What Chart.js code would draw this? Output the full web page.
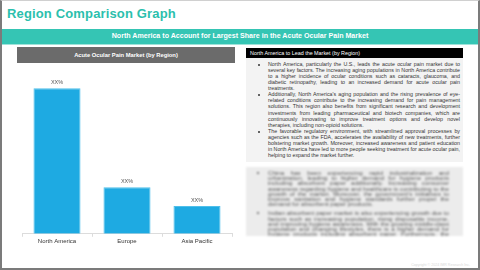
<!DOCTYPE html>
<html>
<head>
<meta charset="utf-8">
<script src="https://cdn.jsdelivr.net/npm/chart.js@4"></script>
<style>
  html,body{margin:0;padding:0;background:#fff;}
  #page{position:relative;width:480px;height:270px;box-sizing:border-box;overflow:hidden;
    border-left:2px solid #7b7b7b;border-right:2px solid #7b7b7b;border-bottom:2px solid #7b7b7b;border-top:1px solid #d0d0d0;
    font-family:"Liberation Sans",Arial,sans-serif;}
  #title{position:absolute;left:5px;top:5px;font-size:13px;font-weight:bold;color:#2bbfad;letter-spacing:0.15px;}
  #band{position:absolute;left:0;top:28px;width:476px;height:15px;background:#35c5b4;border-bottom:1px solid #9fe3da;
    color:#fff;font-size:7.1px;font-weight:bold;text-align:center;line-height:15px;}
  #lhead{position:absolute;left:15px;top:46px;width:218px;height:16px;background:#6b6b6b;color:#fff;
    font-size:5.8px;font-weight:bold;text-align:center;line-height:16px;}
  #chartwrap{position:absolute;left:15px;top:63px;width:218px;height:182px;}
  #rhead{position:absolute;left:244px;top:47px;width:217px;height:10px;background:#000;color:#fff;
    font-size:5.4px;line-height:10px;padding-left:4px;box-sizing:border-box;}
  #rpanel{position:absolute;left:244px;top:57px;width:217px;height:104px;background:#f3f3f3;box-sizing:border-box;
    padding:3px 3px 0 0;}
  ul{margin:0;padding-left:22px;}
  #rpanel li{font-size:5.3px;line-height:6.07px;color:#333;text-align:justify;}
  #blur{position:absolute;left:244px;top:166px;width:217px;height:69px;background:#ececec;box-sizing:border-box;
    padding:3px 14px 0 0;filter:blur(1.3px);overflow:hidden;}
  #blur li{font-size:6.2px;line-height:5.2px;color:#555;text-align:justify;margin-bottom:4px;}
  #copy{position:absolute;right:8px;top:262px;font-size:3.6px;color:#d8d8d8;}
</style>
</head>
<body>
<div id="page">
  <div id="title">Region Comparison Graph</div>
  <div id="band">North America to Account for Largest Share in the Acute Ocular Pain Market</div>
  <div id="lhead">Acute Ocular Pain Market (by Region)</div>
  <div id="chartwrap"><canvas id="c" width="218" height="182"></canvas></div>
  <div id="rhead">North America to Lead the Market (by Region)</div>
  <div id="rpanel">
    <ul>
      <li>North America, particularly the U.S., leads the acute ocular pain market due to several key factors. The increasing aging populations in North America contribute to a higher incidence of ocular conditions such as cataracts, glaucoma, and diabetic retinopathy, leading to an increased demand for acute ocular pain treatments.</li>
      <li>Additionally, North America's aging population and the rising prevalence of eye-related conditions contribute to the increasing demand for pain management solutions. This region also benefits from significant research and development investments from leading pharmaceutical and biotech companies, which are continuously innovating to improve treatment options and develop novel therapies, including non-opioid solutions.</li>
      <li>The favorable regulatory environment, with streamlined approval processes by agencies such as the FDA, accelerates the availability of new treatments, further bolstering market growth. Moreover, increased awareness and patient education in North America have led to more people seeking treatment for acute ocular pain, helping to expand the market further.</li>
    </ul>
  </div>
  <div id="blur">
    <ul>
      <li>China has been experiencing rapid industrialization and urbanization, leading to higher demand for hygiene products including absorbent paper additionally. Increasing consumer awareness regarding hygiene and healthcare is contributing to the growth of the market. Moreover, the government's initiatives to improve sanitation and hygiene standards further propel the demand for absorbent paper products.</li>
      <li>Indian absorbent paper market is also experiencing growth due to factors such as increasing population, rising disposable income, and improving hygiene awareness. With the growing middle-class population and changing lifestyles, there is a higher demand for hygiene products including absorbent paper. Furthermore, the retail development.</li>
    </ul>
  </div>
  <div id="copy">Copyright © 2024 IMR Research Inc.</div>
</div>
<script>
const categories = ["North America", "Europe", "Asia Pacific"];
const shareValues = [55, 17.6, 10.5];
const valueLabels = ["XX%", "XX%", "XX%"];

const labelPlugin = {
  id: 'barLabels',
  afterDatasetsDraw(chart) {
    const ctx = chart.ctx;
    const meta = chart.getDatasetMeta(0);
    ctx.save();
    ctx.font = '5.5px "Liberation Sans", Arial, sans-serif';
    ctx.fillStyle = '#555';
    ctx.textAlign = 'center';
    ctx.textBaseline = 'bottom';
    meta.data.forEach((bar, i) => {
      ctx.fillText(valueLabels[i], bar.x, bar.y - 3);
    });
    ctx.restore();
  }
};

new Chart(document.getElementById('c'), {
  type: 'bar',
  data: {
    labels: categories,
    datasets: [{
      data: shareValues,
      backgroundColor: '#1eaae2',
      borderColor: '#4fbfea',
      borderWidth: 1,
      categoryPercentage: 0.8,
      barPercentage: 0.84
    }]
  },
  options: {
    responsive: false,
    animation: false,
    devicePixelRatio: 1,
    layout: { padding: { left: 5, right: 3, top: 11, bottom: 0 } },
    plugins: { legend: { display: false }, tooltip: { enabled: false } },
    scales: {
      y: { display: false, min: 0, max: 60 },
      x: {
        grid: { display: true, drawOnChartArea: false, drawTicks: true, tickLength: 3, color: '#dcdcdc' },
        border: { color: '#dcdcdc' },
        ticks: { font: { size: 6, family: '"Liberation Sans", Arial, sans-serif' }, color: '#333', padding: 1 }
      }
    }
  },
  plugins: [labelPlugin]
});
</script>
</body>
</html>
